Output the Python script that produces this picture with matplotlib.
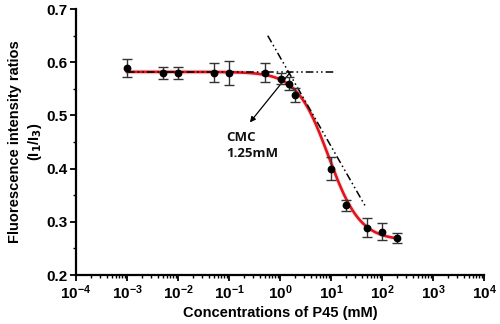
import numpy as np
import matplotlib
matplotlib.use("Agg")
import matplotlib.pyplot as plt
from matplotlib.ticker import LogLocator, MultipleLocator, FixedLocator

# measured points (concentration in mM, I1/I3 ratio, error)
conc = [0.001, 0.005, 0.01, 0.05, 0.1, 0.5, 1.07, 1.5, 2.0, 10, 20, 50, 100, 200]
ratio = [0.590, 0.580, 0.580, 0.580, 0.580, 0.580, 0.569, 0.560, 0.538, 0.400, 0.331, 0.289, 0.281, 0.270]
err = [0.017, 0.011, 0.012, 0.018, 0.023, 0.018, 0.010, 0.013, 0.013, 0.022, 0.010, 0.018, 0.016, 0.010]

# sigmoidal fit parameters (log scale)
top, bottom, log_ec50, hill = 0.582, 0.265, 0.95, 1.4
fit_range = (1e-3, 200)

# tangent lines used to find the CMC
flat_x = [1e-3, 12]
flat_y = [0.582, 0.582]
slope_x = [10**-0.24, 10**1.67]
slope_y = [0.650, 0.330]

x_ticks = [1e-4, 1e-3, 1e-2, 1e-1, 1e0, 1e1, 1e2, 1e3, 1e4]
y_ticks = [0.2, 0.3, 0.4, 0.5, 0.6, 0.7]

plt.rcParams["font.family"] = ["Liberation Sans", "DejaVu Sans"]

fig = plt.figure(figsize=(5, 3.24), dpi=100)
ax = fig.add_axes([0.152, 0.151, 0.816, 0.821])

xf = np.logspace(np.log10(fit_range[0]), np.log10(fit_range[1]), 300)
yf = bottom + (top - bottom) / (1 + 10 ** ((np.log10(xf) - log_ec50) * hill))
ax.plot(xf, yf, color="0.7", lw=3.5, alpha=0.3, zorder=1, solid_capstyle="round")
ax.plot(xf, yf, color="#e8101a", lw=1.9, zorder=2)

ax.plot(flat_x, flat_y, color="black", lw=1.1, ls=(0, (5, 2, 1, 2, 1, 2)), zorder=3)
ax.plot(slope_x, slope_y, color="black", lw=1.1, ls=(0, (5, 2, 1, 2, 1, 2)), zorder=3)

ax.errorbar(conc, ratio, yerr=err, fmt="o", color="black", ms=4.6,
            ecolor="#333333", elinewidth=1, capsize=3.3, capthick=1, zorder=4)

ax.annotate("", xy=(10**-0.59, 0.487), xytext=(10**0.2, 0.581),
            arrowprops=dict(arrowstyle="-|>", color="black", lw=0.9,
                            mutation_scale=8, shrinkA=0, shrinkB=0))
ax.text(10**-1.05, 0.471, "CMC\n1.25mM", fontsize=9.5, fontweight="bold",
        family=["Open Sans", "DejaVu Sans"], color="#111111",
        va="top", ha="left", linespacing=1.3)

ax.set_xscale("log")
ax.set_xlim(1e-4, 1e4)
ax.set_ylim(0.2, 0.7)
ax.xaxis.set_major_locator(FixedLocator(x_ticks))
ax.xaxis.set_minor_locator(LogLocator(base=10, subs=np.arange(2, 10), numticks=20))
ax.yaxis.set_major_locator(FixedLocator(y_ticks))
ax.yaxis.set_minor_locator(MultipleLocator(0.05))
ax.set_yticklabels([f"{v:.1f}" for v in y_ticks])

for s in ["top", "right"]:
    ax.spines[s].set_visible(False)
for s in ["left", "bottom"]:
    ax.spines[s].set_linewidth(1.6)

ax.tick_params(which="major", direction="out", length=4, width=1.3,
               labelsize=11, pad=2)
ax.tick_params(which="minor", direction="out", length=2.5, width=1)
for lab in ax.get_xticklabels() + ax.get_yticklabels():
    lab.set_fontweight("bold")

ax.set_xlabel("Concentrations of P45 (mM)", fontsize=10.5, fontweight="bold", labelpad=3)
ax.set_ylabel("Fluorescence intensity ratios\n(I$_\\mathbf{1}$/I$_\\mathbf{3}$)",
              fontsize=10.5, fontweight="bold", labelpad=2, linespacing=1.3)

fig.savefig("out.png", dpi=100)
